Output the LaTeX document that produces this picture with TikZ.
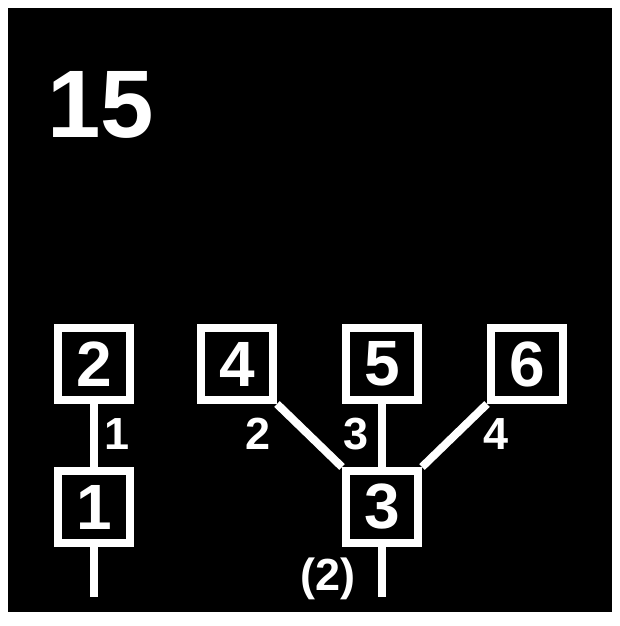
\documentclass[tikz,border=0pt]{standalone}
\usepackage{fontspec}
\setmainfont{Liberation Sans}
\usetikzlibrary{positioning}

\begin{document}
\begin{tikzpicture}[x=1pt,y=-1pt,
  caja/.style={draw=white,line width=8pt,minimum size=72pt,inner sep=0pt,text=white,font=\fontsize{64}{64}\selectfont\bfseries},
  rama/.style={white,line width=8pt},
  peso/.style={text=white,inner sep=0pt,font=\fontsize{45}{45}\selectfont\bfseries}]
  \useasboundingbox (0,0) rectangle (620,626);
  \fill[white] (0,0) rectangle (620,626);
  \fill[black] (8,8) rectangle (612,612);
  \node[anchor=base west,inner sep=0pt,text=white,font=\fontsize{96}{96}\selectfont\bfseries] (titulo) at (47,137) {15};
  \node[caja] (n2) at (94,364) {2};
  \node[caja] (n1) at (94,507) {1};
  \foreach \n/\x in {4/237,5/382,6/527} \node[caja] (n\n) at (\x,364) {\n};
  \node[caja] (n3) at (382,507) {3};
  \coordinate (fin1) at (94,597);
  \coordinate (fin3) at (382,597);
  \draw[rama] (n2) -- (n1);
  \draw[rama] (n1) -- (fin1);
  \draw[rama] (n4.south east) -- (n3.north west);
  \draw[rama] (n5) -- (n3);
  \draw[rama] (n6.south west) -- (n3.north east);
  \draw[rama] (n3) -- (fin3);
  \node[peso] (p1) at (117,434) {1};
  \node[peso] (p2) at (258,434) {2};
  \node[peso] (p3) at (356,434) {3};
  \node[peso] (p4) at (496,434) {4};
  \node[peso,anchor=base] (p0) at (328,590) {(2)};
\end{tikzpicture}
\end{document}
